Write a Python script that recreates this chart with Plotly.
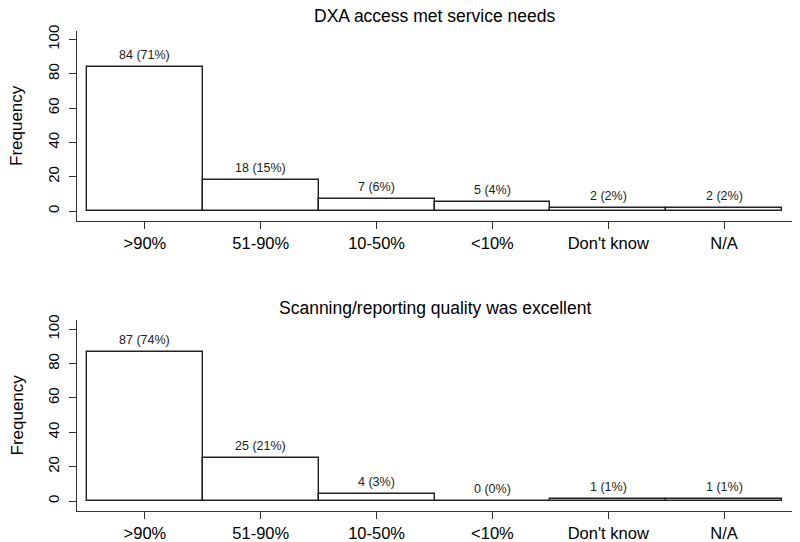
import plotly.graph_objects as go

categories = [">90%", "51-90%", "10-50%", "<10%", "Don't know", "N/A"]
access_counts = [84, 18, 7, 5, 2, 2]
quality_counts = [87, 25, 4, 0, 1, 1]
titles = ["DXA access met service needs", "Scanning/reporting quality was excellent"]
y_ticks = [0, 20, 40, 60, 80, 100]

# page body has an 8px margin, so the figure is sized to fit the window
OFF = 8
W, H = 800 - OFF, 542 - OFF
FONT = "Liberation Sans, Arial, Helvetica, sans-serif"
AXC = "#333333"


def px(x):
    return (x - OFF) / W


def py(y):
    return 1 - (y - OFF) / H


fig = go.Figure()

panels = [
    (access_counts, "x", "y", [py(221), py(31)], 16, [-5.83, 104.96]),
    (quality_counts, "x2", "y2", [py(511), py(320)], 308, [-5.82, 105.4]),
]

xpos = list(range(len(categories)))
for i, (counts, xa, ya, ydom, title_y, yr) in enumerate(panels):
    total = sum(counts)
    labels = [f"{c} ({round(100 * c / total)}%)" for c in counts]
    fig.add_trace(go.Bar(
        x=xpos, y=counts, width=1.0, xaxis=xa, yaxis=ya,
        marker=dict(color="white", line=dict(color="#222222", width=1.4)),
        showlegend=False, hoverinfo="skip",
    ))
    for xv, c, lab in zip(xpos, counts, labels):
        fig.add_annotation(
            x=xv, y=c, xref=xa, yref=ya, text=lab, showarrow=False,
            yanchor="bottom", yshift=3, font=dict(family=FONT, size=12.5, color="#222222"),
        )
    fig.add_annotation(
        x=px((77 + 792) / 2), y=py(title_y), xref="paper", yref="paper",
        text=titles[i], showarrow=False, xanchor="center", yanchor="middle",
        font=dict(family=FONT, size=17.5, color="black"),
    )
    fig.add_annotation(
        x=px(17), y=(ydom[0] + ydom[1]) / 2, xref="paper", yref="paper",
        text="Frequency", showarrow=False, textangle=-90, xanchor="center", yanchor="middle",
        font=dict(family=FONT, size=17, color="black"),
    )

axis_common = dict(
    showgrid=False, zeroline=False, showline=True, linecolor=AXC, linewidth=1.2,
    ticks="outside", ticklen=7, tickcolor=AXC, tickwidth=1.2, automargin=False,
)

xr = [-0.5 - 10 / 115.8, 5.5 + 10 / 115.8]
fig.update_layout(
    template="none",
    width=W, height=H, margin=dict(l=0, r=0, t=0, b=0, pad=0),
    paper_bgcolor="white", plot_bgcolor="white", bargap=0,
    font=dict(family=FONT, color="black"),
    xaxis=dict(domain=[px(77), px(792)], range=xr, anchor="y",
               tickvals=xpos, ticktext=categories, tickfont=dict(size=16.5), **axis_common),
    yaxis=dict(domain=panels[0][3], range=panels[0][5], anchor="x",
               tickvals=y_ticks, tickangle=-90, tickfont=dict(size=15),
               ticklabelstandoff=4, **axis_common),
    xaxis2=dict(domain=[px(77), px(792)], range=xr, anchor="y2",
                tickvals=xpos, ticktext=categories, tickfont=dict(size=16.5), **axis_common),
    yaxis2=dict(domain=panels[1][3], range=panels[1][5], anchor="x2",
                tickvals=y_ticks, tickangle=-90, tickfont=dict(size=15),
                ticklabelstandoff=4, **axis_common),
)

fig.write_html("out.html")
